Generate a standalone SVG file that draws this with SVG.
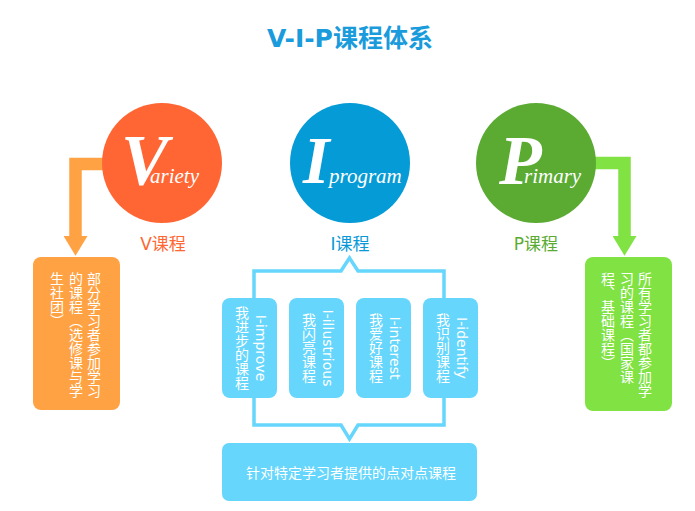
<svg xmlns="http://www.w3.org/2000/svg" width="695" height="511" viewBox="0 0 695 511">
<style>
.t{font-family:"DejaVu Sans","Noto Sans CJK SC",sans-serif;}
.big{font-family:"Liberation Serif","Times New Roman",serif;font-style:italic;font-weight:bold;fill:#fff;}
.sm{font-family:"Liberation Serif","Times New Roman",serif;font-style:italic;fill:#fff;font-size:21px;}
.vt{font-family:"DejaVu Sans","Noto Sans CJK SC",sans-serif;font-size:14px;fill:#fff;writing-mode:vertical-rl;}
.ib{fill:#66d6fc;}
</style>
<defs>
<marker id="ao" markerUnits="userSpaceOnUse" markerWidth="30" markerHeight="24" refX="0" refY="14" orient="auto" viewBox="0 0 24 28">
<path d="M0,0 L23,14 L0,28 Z" fill="#ffa243"/>
</marker>
<marker id="ag" markerUnits="userSpaceOnUse" markerWidth="30" markerHeight="24" refX="0" refY="14" orient="auto" viewBox="0 0 24 28">
<path d="M0,0 L23,14 L0,28 Z" fill="#80e243"/>
</marker>
</defs>
<rect width="695" height="511" fill="#fff"/>
<text class="t" x="267" y="47" font-size="25" font-weight="bold" fill="#1a9bdc">V-I-P课程体系</text>

<g id="connectors">
<path d="M110,164 H75.5 V236" fill="none" stroke="#ffa243" stroke-width="12.5" marker-end="url(#ao)"/>
<path d="M585,163 H624.5 V236" fill="none" stroke="#80e243" stroke-width="12.5" marker-end="url(#ag)"/>
<path d="M254,300 V271 H341 L349.5,258 L358,271 H444 V300" fill="none" stroke="#66d6fc" stroke-width="3.5" stroke-linejoin="miter"/>
<path d="M254,396 V425 H341 L349.5,439 L358,425 H444 V396" fill="none" stroke="#66d6fc" stroke-width="3.5" stroke-linejoin="miter"/>
</g>

<g id="node-v">
<circle cx="162" cy="163" r="60" fill="#ff6633"/>
<text class="big" x="121" y="184" font-size="71">V</text>
<text class="sm" x="150" y="183">ariety</text>
<text class="t" x="163" y="250" font-size="17" fill="#ff6633" text-anchor="middle">V课程</text>
</g>
<g id="node-i">
<circle cx="350" cy="163" r="60" fill="#059bd6"/>
<text class="big" x="303" y="183" font-size="68">I</text>
<text class="sm" x="329" y="183">program</text>
<text class="t" x="350" y="250" font-size="17" fill="#0a99d8" text-anchor="middle">I课程</text>
</g>
<g id="node-p">
<circle cx="536" cy="163" r="60" fill="#5bab33"/>
<text class="big" x="499" y="184" font-size="70">P</text>
<text class="sm" x="524" y="183">rimary</text>
<text class="t" x="536" y="250" font-size="17" fill="#5bab33" text-anchor="middle">P课程</text>
</g>

<g id="box-v">
<rect x="33" y="257" width="87" height="153" rx="8" fill="#ffa243"/>
<text class="vt" x="93" y="272">部分学习者参加学习</text>
<text class="vt" x="75" y="272">的课程（选修课与学</text>
<text class="vt" x="56" y="272">生社团）</text>
</g>
<g id="box-p">
<rect x="585" y="257" width="87" height="154" rx="8" fill="#80e243"/>
<text class="vt" x="644" y="272">所有学习者都参加学</text>
<text class="vt" x="626" y="272">习的课程（国家课</text>
<text class="vt" x="607" y="272">程、基础课程）</text>
</g>

<g id="i1">
<rect class="ib" x="222" y="298" width="55" height="100" rx="8"/>
<text class="vt" x="261" y="348" text-anchor="middle">I-improve</text>
<text class="vt" x="241" y="348" text-anchor="middle">我进步的课程</text>
</g>
<g id="i2">
<rect class="ib" x="289" y="298" width="55" height="100" rx="8"/>
<text class="vt" x="328" y="348" text-anchor="middle">I-illustrious</text>
<text class="vt" x="308" y="348" text-anchor="middle">我闪亮课程</text>
</g>
<g id="i3">
<rect class="ib" x="356" y="298" width="55" height="100" rx="8"/>
<text class="vt" x="395" y="348" text-anchor="middle">I-interest</text>
<text class="vt" x="375" y="348" text-anchor="middle">我爱好课程</text>
</g>
<g id="i4">
<rect class="ib" x="423" y="298" width="55" height="100" rx="8"/>
<text class="vt" x="462" y="348" text-anchor="middle">I-identify</text>
<text class="vt" x="442" y="348" text-anchor="middle">我识别课程</text>
</g>

<g id="box-bottom">
<rect class="ib" x="222" y="443" width="255" height="58" rx="7"/>
<text class="t" x="351" y="473" font-size="14" fill="#fff" text-anchor="middle" dominant-baseline="central">针对特定学习者提供的点对点课程</text>
</g>
</svg>
